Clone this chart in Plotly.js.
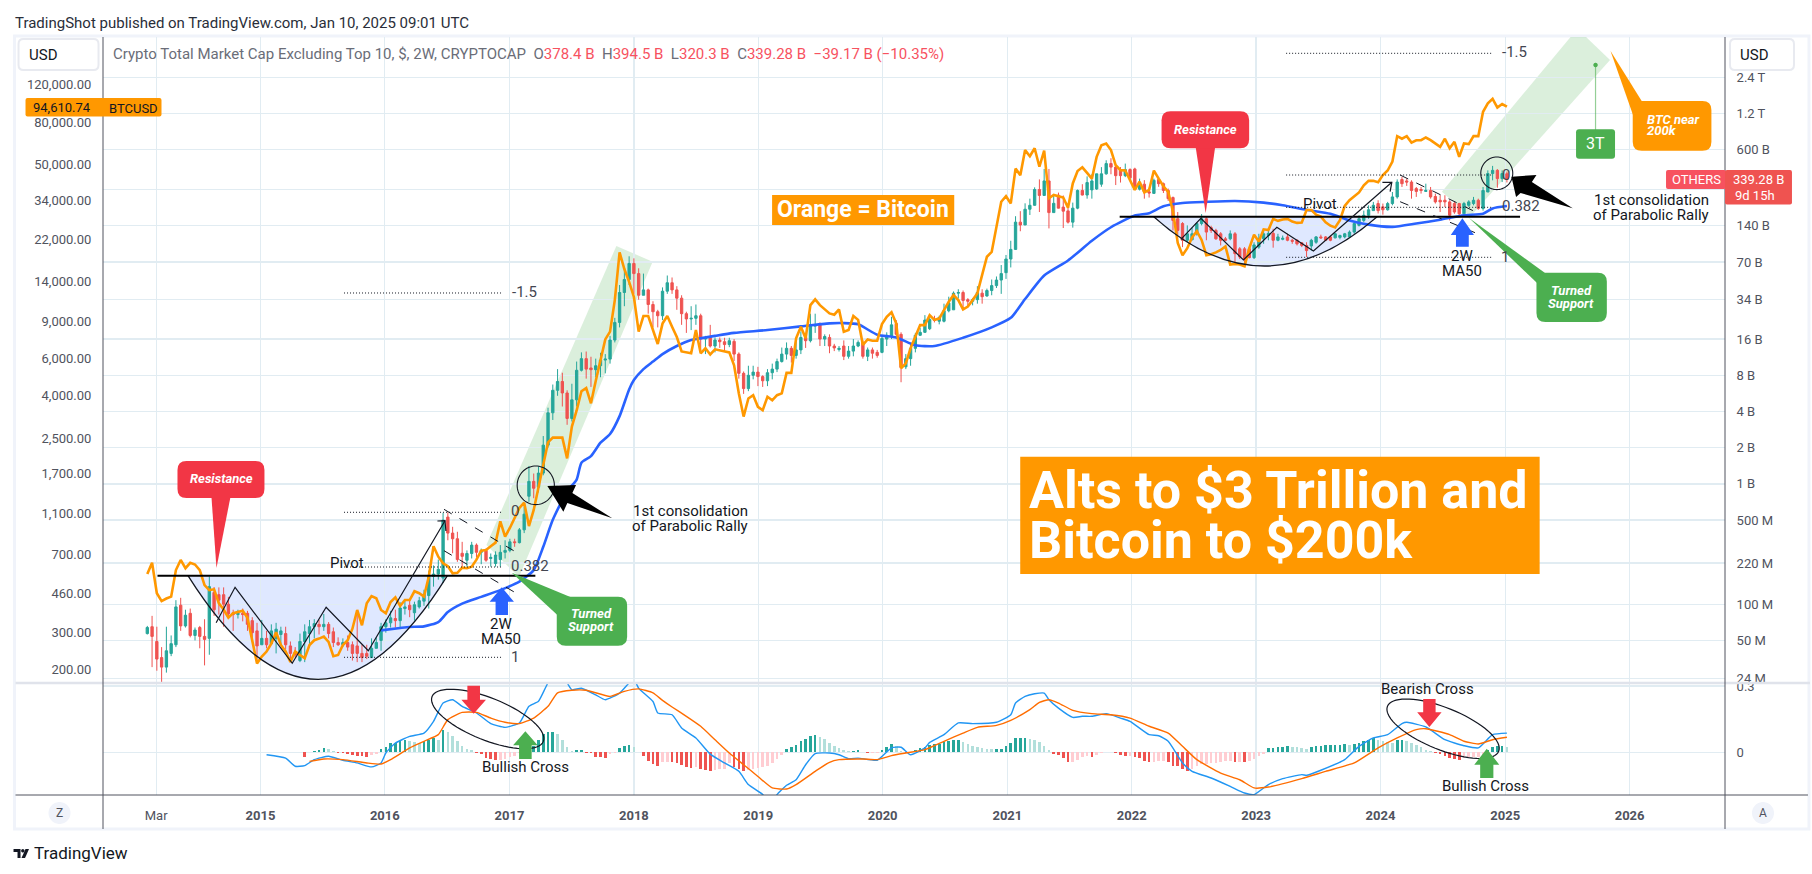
<!DOCTYPE html>
<html><head><meta charset="utf-8">
<script src="https://cdn.plot.ly/plotly-3.0.1.min.js"></script>
<style>html,body{margin:0;padding:0;background:#fff}#c{width:1812px;height:874px}</style></head>
<body><div id="c"></div>
<script>
// ---------- DATA (USD millions, 2-week bars, bar 1 = first bar) ----------
const othersOpen=[57,65,49,36,30,39,46,98,66,84,
55,64,54,52,125,120,120,100,85,82,
84,84,73,60,46,52,47,52,56,57,
45,40,34,49,57,65,68,65,68,59,
48,46,48,46,45,39,39,36,43,50,
65,70,76,73,92,98,85,95,106,118,
170,178,165,530,390,350,265,232,264,310,
270,280,240,218,235,270,280,330,325,415,
790,1050,940,1230,2100,3900,6000,7100,5700,3500,
5000,8800,11000,9200,8900,9600,10700,10900,15700,22000,
39000,50000,68000,56000,37000,41000,31000,27000,25000,40000,
47000,41000,35000,26000,23500,23800,25000,16000,16500,14000,
15700,15200,14400,15300,12000,8300,6200,8000,8500,7800,
7200,8400,9000,10400,12000,13400,11700,13000,16500,15500,
20500,21000,16000,16500,14000,13100,14000,11500,12700,14000,
15000,11500,13000,12400,12400,16000,17000,21500,17500,9400,
11000,13400,17200,18200,19500,23300,22500,22500,27500,28000,
38500,39000,34000,33000,34000,38500,36500,40500,44500,49500,
57000,74000,89000,150000,142000,192000,207000,280000,250000,330000,
180000,251000,200000,186000,150000,196000,275000,252000,278000,283000,
310000,378000,460000,430000,410000,365000,410000,415000,282000,310000,
268000,260000,339000,313000,275000,240000,160000,146000,106000,107000,
120000,146000,160000,135000,128000,120000,109000,109000,120000,90000,
90000,90000,76000,93000,109000,116000,121000,106000,108000,113000,
106000,106000,101000,96000,95000,102000,113000,113000,113000,111000,
112000,113000,113000,124000,141000,155000,171000,187000,214000,201000,
190000,214000,243000,339000,330000,323000,285000,280000,270000,275000,
245000,228000,228000,221000,214000,214000,176000,207000,214000,228000,
195000,267000,380000,404000,345000,378400];
const othersHigh=[66,80,65,44,65,55,108,113,90,92,
64,66,75,170,139,138,138,115,90,90,
92,88,78,70,74,60,68,70,65,65,
49,44,57,68,74,75,74,83,71,64,
53,52,55,49,83,46,46,52,53,70,
75,88,90,104,110,108,105,115,132,190,
210,235,575,580,440,400,330,280,330,320,
290,290,264,275,310,340,350,350,430,650,
1410,1220,1400,2500,4300,6700,9000,8400,6000,6800,
10400,12400,12600,11400,11000,12300,12000,17000,24000,45000,
60000,78000,75000,62000,56000,42000,33000,28000,43000,54000,
52000,44000,37000,27000,30000,31000,26000,17000,21000,16500,
16500,16400,16400,16000,12400,8600,9600,9600,9400,8000,
9000,10000,11000,13600,15000,14000,16000,18500,18000,26000,
26000,22000,17500,17500,14600,14000,15600,14000,16000,15600,
15600,13600,13600,13000,17000,18200,24500,23000,18200,12000,
14600,18000,19800,25300,24300,25000,25000,31500,36000,39800,
41500,40500,35000,35000,44000,41500,42000,50000,53000,66000,
80000,105000,168000,185000,215000,235000,292000,340000,415000,415000,
255000,264000,250000,205000,218000,280000,310000,360000,375000,378000,
430000,490000,510000,445000,430000,460000,420000,425000,345000,335000,
290000,345000,350000,320000,285000,245000,182000,150000,141000,135000,
150000,175000,165000,140000,132000,124000,113000,128000,124000,93000,
93000,93000,102000,120000,128000,132000,132000,120000,116000,120000,
109000,108000,102000,102000,109000,115000,118000,115000,116000,122000,
118000,122000,128000,150000,171000,187000,207000,221000,228000,214000,
221000,267000,340000,356000,345000,334000,294000,294000,313000,294000,
259000,251000,251000,228000,221000,217000,221000,228000,243000,235000,
294000,404000,440000,414000,404000,394500];
const othersLow=[56,30,28,22,27,37,44,60,64,53,
50,43,31,38,80,82,65,78,60,76,
72,60,52,34,46,43,46,39,45,42,
33,36,33,33,44,52,56,60,52,44,
45,44,41,34,33,33,35,36,43,41,
58,64,64,64,82,78,73,92,97,92,
140,160,150,340,265,225,205,205,240,245,
215,225,205,205,205,240,270,300,320,390,
710,760,850,1180,2000,3400,5400,4400,3100,3300,
4400,8600,7500,6400,7700,7700,8300,10000,15000,20000,
30000,45000,38000,34000,37000,26000,20000,20000,23000,38000,
38000,28000,21000,18000,19000,21000,13000,12000,13600,12400,
13500,12600,13700,10500,7500,5600,5900,7400,6500,6400,
6500,7400,8500,10200,10800,10200,11000,12000,13500,15000,
18000,14000,14000,12200,12700,12600,10700,11000,11500,13700,
11000,10500,11000,11200,12200,14000,16000,16500,7000,9000,
9600,12400,17000,18000,19000,22000,21200,22000,26700,28000,
34800,28500,30000,30500,31500,31500,36000,37000,42500,38000,
50600,63000,88000,126000,142000,172000,205000,182000,250000,133000,
180000,195000,134000,146000,135000,192000,250000,235000,235000,278000,
295000,372000,375000,305000,320000,355000,330000,280000,275000,235000,
240000,260000,295000,262000,225000,128000,116000,93000,102000,106000,
116000,141000,106000,122000,107000,96000,104000,106000,70000,74000,
66000,75000,74000,90000,99000,106000,92000,104000,106000,104000,
99000,96000,93000,77000,87000,99000,109000,106000,104000,110000,
108000,110000,112000,120000,138000,150000,160000,187000,177000,173000,
187000,207000,235000,294000,300000,235000,243000,259000,267000,235000,
214000,182000,200000,155000,176000,165000,176000,201000,207000,190000,
187000,267000,334000,290000,323000,320300];
const othersClose=[64,54,35,30,41,47,95,66,81,55,
61,54,51,140,90,108,100,83,82,84,
82,68,58,45,52,46,60,62,60,46,
39,38,49,59,65,69,65,68,57,48,
46,48,44,39,39,36,37,43,48,65,
70,77,73,93,95,90,99,107,121,170,
178,195,500,390,350,235,250,264,310,270,
280,232,245,256,270,280,330,325,415,560,
1050,920,1230,2100,3900,6000,7100,5700,3500,5000,
8800,11000,9000,8900,9600,10700,10900,15700,22000,39000,
50000,68000,56000,37000,41000,31000,27000,25000,40000,47000,
41000,35000,26000,23500,23800,25000,16000,16500,14000,15700,
15200,14400,15500,12000,8300,6200,8000,8500,7800,7200,
8400,9000,10400,12000,13400,11700,13000,16500,15500,21000,
21000,16000,16800,14000,13500,13400,11500,12700,14000,15000,
11500,13000,12200,11700,16200,17200,21000,17500,9300,11000,
13400,17200,18200,23000,23300,22800,24200,27500,32000,38500,
39000,33500,33000,34000,39000,36000,40500,44500,49500,56000,
74000,89000,150000,142000,192000,207000,280000,250000,330000,180000,
215000,196000,185000,150000,196000,275000,252000,320000,330000,378000,
378000,460000,430000,365000,365000,410000,350000,280000,310000,268000,
262000,334000,313000,275000,235000,155000,128000,106000,120000,120000,
146000,160000,124000,128000,109000,106000,106000,120000,82000,77000,
74000,76000,97000,109000,120000,121000,106000,113000,110000,106000,
104000,99000,96000,87000,106000,113000,111000,106000,106000,120000,
116000,120000,124000,146000,160000,171000,190000,207000,187000,190000,
214000,243000,323000,313000,323000,275000,270000,275000,275000,243000,
221000,221000,221000,171000,182000,176000,214000,221000,228000,195000,
275000,380000,404000,345000,380000,339280];
// Bitcoin in USD, same bars
const btcClose=[567,642,460,422,434,443,593,662,605,642,
630,593,503,476,480,412,385,352,370,375,
380,352,275,213,230,243,265,300,261,243,
217,243,234,226,261,275,280,286,270,231,
234,261,275,312,383,324,412,446,435,383,
369,418,440,400,427,427,470,460,443,551,
770,686,638,618,572,575,609,605,615,664,
733,738,770,800,1010,855,940,1045,1170,1240,
960,1145,1470,1909,2400,2525,2525,2525,2013,2850,
3400,4200,4345,3680,4700,6000,7400,8060,11380,19180,
16000,13900,11780,8060,9560,9560,8200,7040,8800,9560,
8500,7600,6490,6400,6360,8200,6360,6720,6280,6640,
6550,6500,6420,5580,4100,3180,3880,4020,3540,3410,
3950,3800,4020,4100,5130,5130,7500,8500,7490,10770,
11480,10770,10300,9840,9700,10280,8050,8200,9560,9170,
6970,7400,7300,7300,8760,9490,9960,8800,5400,5700,
6720,7600,8660,8660,9640,9170,9300,10200,11180,12020,
11380,10280,10600,11380,12260,15000,18300,19300,25400,33400,
35500,32800,48000,44700,58800,55000,60000,49000,58400,34700,
36000,35600,35000,31300,40800,46800,48700,45800,43000,54600,
62000,63200,58800,49800,47200,47000,42400,38000,41600,37000,
38000,47000,43000,39600,37200,30000,21300,18600,20100,22600,
24200,22000,18600,18800,19200,19700,20500,16800,16900,16800,
16500,20100,23300,21600,24700,24500,27700,27100,27500,27700,
26900,26500,26600,30500,30500,29000,28400,26700,25700,25200,
27300,31900,34000,35600,37000,40000,42000,42000,41400,44700,
47000,51900,68500,66600,68500,63800,65500,65500,67500,65600,
63000,60900,66600,60000,64400,54600,63200,62800,68500,68500,
89400,98000,103000,93600,97400,94610.74];
// 2W MA50 of OTHERS (USD millions) read at these bars
const maBars=[50,54,56,59,62,64,67,71,75,79,82,84,86,89,91,92,94,96,98,100,102,103,105,107,109,112,115,120,124,131,138,144,147,150,154,158,162,166,172,178,182,185,189,194,199,203,208,211,214,218,223,229,235,239,244,249,253,257,262,267,272,277,281,283,286];
const maValues=[60.6,63.4,64.7,65.4,71,86,101,115,131,154,192,300,503,868,1087,1500,1700,2200,2600,3660,6100,7300,9000,10400,12000,14000,15700,17000,18000,19000,20400,21600,21700,21200,17400,16500,14200,14000,16400,20000,24000,34400,54000,72000,105000,136000,170000,178000,203000,216000,221000,225000,218000,207000,190000,176000,155000,143000,137000,146000,157000,171000,176000,195000,204000];
// MACD pane
const macdBars=[26,30,32,34,36,39,42,45,48,50,51,53,56,59,61,63,65,67,70,73,76,79,81,83,85,87,89,90,92,95,97,100,102,103,104,107,108,111,113,116,119,122,125,127,130,131,132,133,135,137,139,141,144,146,148,150,154,157,159,161,164,165,168,171,174,179,182,183,185,187,189,190,192,195,197,199,202,205,207,211,213,215,218,220,224,228,231,233,236,239,243,244,247,252,255,258,261,264,265,269,273,277,280,283,286];
const macdValues=[-.011,-.026,-.063,-.060,-.033,-.018,-.036,-.048,-.066,-.048,-.003,.042,.072,.087,.140,.223,.238,.208,.178,.130,.113,.133,.208,.231,.314,.36,.314,.283,.29,.26,.238,.268,.314,.33,.29,.23,.178,.170,.110,.065,-.008,-.048,-.086,-.146,-.191,-.222,-.24,-.191,-.149,-.124,-.056,-.006,-.003,-.011,-.029,-.026,-.036,.020,.023,-.011,.020,.045,.080,.133,.130,.136,.170,.223,.253,.265,.268,.238,.20,.158,.163,.163,.175,.155,.140,.080,.075,.050,-.048,-.086,-.116,-.154,-.184,-.191,-.146,-.119,-.101,-.104,-.081,-.033,.027,.065,.080,.130,.136,.115,.057,.030,.020,.080,.087];
const signalBars=[35,38,42,47,50,52,56,59,62,64,67,70,73,76,79,82,85,87,90,93,98,101,104,107,109,111,114,117,120,123,126,129,132,135,137,141,144,146,151,154,157,160,164,168,172,175,179,182,186,188,190,192,195,199,203,207,211,215,218,221,226,230,233,236,243,248,254,259,263,267,269,274,277,280,283,286];
const signalValues=[-.041,-.030,-.033,-.048,-.053,-.033,.020,.050,.080,.148,.181,.181,.155,.136,.130,.155,.208,.269,.281,.281,.253,.276,.287,.269,.235,.205,.163,.118,.057,-.003,-.056,-.109,-.161,-.166,-.146,-.086,-.045,-.033,-.030,-.033,-.015,-.003,.012,.050,.087,.113,.122,.145,.193,.226,.238,.223,.190,.175,.170,.155,.118,.087,.027,-.033,-.094,-.124,-.161,-.157,-.119,-.086,-.048,.020,.065,.103,.107,.080,.050,.038,.057,.068];
// Histogram in thousandths, bars 34..286
const histMilli=[-23,0,8,12,20,14,6,-2,-5,-6,
-12,-15,-17,-20,-11,-8,15,26,42,42,
50,57,53,47,42,53,57,63,57,102,
90,75,50,30,15,9,-3,-8,-24,-30,
-35,-33,-30,-21,-15,-5,6,15,30,57,
83,90,93,83,57,23,8,11,11,-2,
-5,-21,-23,-26,-8,-2,20,27,33,24,
3,-18,-38,
-53,-60,-45,-42,-45,-48,-57,-65,-71,-68,
-75,-78,-83,-78,-75,-75,-48,-68,-75,-83,
-78,-75,-72,-68,-60,-48,-30,-12,15,23,
33,50,60,72,78,69,60,42,30,20,
12,8,8,11,2,-2,-2,-2,11,26,
38,30,8,-2,-2,9,18,26,33,38,
38,45,50,56,56,48,38,30,26,21,
17,15,15,15,30,41,63,65,65,60,
56,45,30,12,
-8,-11,-27,-42,-42,-33,-23,-15,-20,-11,
-5,2,2,-5,-12,-15,-15,-23,-27,-38,
-45,-42,-38,-38,-45,-60,-63,-75,-83,-75,
-60,-53,-53,-50,-50,-42,-41,-38,-45,-42,
-45,-41,-30,-18,-8,18,18,23,26,29,
26,23,20,15,23,27,30,33,33,35,
35,36,35,38,42,50,54,63,54,50,
45,42,57,57,53,42,33,23,12,5,
-3,-9,-18,-27,-30,-35,-24,-23,-20,-20,
-12,12,26,30,30,24];
const rightTickVals=[2.4e6,1.2e6,6e5,2.8e5,1.4e5,7e4,3.4e4,1.6e4,8e3,4e3,2e3,1e3,500,220,100,50,24];
const rightTickText=['2.4 T','1.2 T','600 B','','140 B','70 B','34 B','16 B','8 B','4 B','2 B','1 B','500 M','220 M','100 M','50 M','24 M'];
const leftTickVals=[120000,80000,50000,34000,22000,14000,9000,6000,4000,2500,1700,1100,700,460,300,200];
const leftTickText=leftTickVals.map(v=>v.toLocaleString('en-US',{minimumFractionDigits:2}));
const yearTicks=['2014-03-01','2015-01-01','2016-01-01','2017-01-01','2018-01-01','2019-01-01','2020-01-01','2021-01-01','2022-01-01','2023-01-01','2024-01-01','2025-01-01','2026-01-01'];
const yearText=['Mar','<b>2015</b>','<b>2016</b>','<b>2017</b>','<b>2018</b>','<b>2019</b>','<b>2020</b>','<b>2021</b>','<b>2022</b>','<b>2023</b>','<b>2024</b>','<b>2025</b>','<b>2026</b>'];
const firstHistBar=34;

// ---------- time scale ----------
const DAY=864e5, T0=Date.UTC(2014,1,3);
const dateOf=b=>new Date(T0+(b-1)*14*DAY).toISOString().slice(0,10);
const barDates=othersClose.map((_,i)=>dateOf(i+1));

// ---------- layout helpers (page pixels -> paper) ----------
const PL=102.5,PR=1725,PT=37,PB=795,SEP=683,W=1812,H=874;
const fx=x=>((x-PL)/(PR-PL)).toFixed(5), fy=y=>(1-(y-PT)/(PB-PT)).toFixed(5);
const P=(pts,close)=>'M'+pts.map(p=>fx(p[0])+','+fy(p[1])).join(' L')+(close?' Z':'');
const base={xref:'paper',yref:'paper'};
const shapes=[],notes=[];
const poly=(pts,fill,layer)=>shapes.push({...base,type:'path',path:P(pts,true),fillcolor:fill,line:{width:0},layer:layer||'above'});
const strokePath=(path,color,w,dash,layer)=>shapes.push({...base,type:'path',path,line:{color,width:w,dash:dash||'solid'},layer:layer||'above'});
const seg=(x0,y0,x1,y1,color,w,dash,layer)=>shapes.push({...base,type:'line',x0:fx(x0),y0:fy(y0),x1:fx(x1),y1:fy(y1),line:{color,width:w,dash:dash||'solid'},layer:layer||'above'});
const rr=(x0,y0,x1,y1,r)=>`M${fx(x0+r)},${fy(y0)} L${fx(x1-r)},${fy(y0)} Q${fx(x1)},${fy(y0)} ${fx(x1)},${fy(y0+r)} L${fx(x1)},${fy(y1-r)} Q${fx(x1)},${fy(y1)} ${fx(x1-r)},${fy(y1)} L${fx(x0+r)},${fy(y1)} Q${fx(x0)},${fy(y1)} ${fx(x0)},${fy(y1-r)} L${fx(x0)},${fy(y0+r)} Q${fx(x0)},${fy(y0)} ${fx(x0+r)},${fy(y0)} Z`;
const box=(x0,y0,x1,y1,r,fill,line,lw)=>shapes.push({...base,type:'path',path:rr(x0,y0,x1,y1,r),fillcolor:fill,line:{color:line||fill,width:lw===undefined?0:lw},layer:'above'});
const ell=(cx,cy,a,b,deg)=>{const t=deg*Math.PI/180,pts=[];for(let k=0;k<72;k++){const u=k/72*2*Math.PI,ex=a*Math.cos(u),ey=b*Math.sin(u);pts.push([cx+ex*Math.cos(t)-ey*Math.sin(t),cy+ex*Math.sin(t)+ey*Math.cos(t)]);}return P(pts,true);};
const F='Roboto, sans-serif';
const T=(text,x,y,o={})=>notes.push({...base,text,x:fx(x),y:fy(y),showarrow:false,xanchor:o.a||'center',yanchor:'middle',align:o.a||'center',font:{family:o.f||F,size:o.s||14,color:o.c||'#131722'}});

// ---------- chrome ----------
strokePath(`M${fx(14)},${fy(36)} L${fx(1809)},${fy(36)} L${fx(1809)},${fy(829)} L${fx(14)},${fy(829)} Z`,'#f0f3fa',3,'solid','below');
seg(15,SEP,1810,SEP,'#e0e3eb',2.5);
seg(PL,PT,PL,829,'#50535e',1);seg(PR,PT,PR,829,'#50535e',1);seg(15,PB,1808,PB,'#50535e',1);
T('TradingShot published on TradingView.com, Jan 10, 2025 09:01 UTC',12,23,{a:'left',s:15,c:'#2a2e39'});
const RED='#f7525f';
T(`Crypto Total Market Cap Excluding Top 10, $, 2W, CRYPTOCAP  O<span style="color:${RED}">378.4 B</span>  H<span style="color:${RED}">394.5 B</span>  L<span style="color:${RED}">320.3 B</span>  C<span style="color:${RED}">339.28 B</span>  <span style="color:${RED}">−39.17 B (−10.35%)</span>`,111,54,{a:'left',s:15,c:'#6a6d78'});
box(18,39,98,70,5,'#ffffff','#e8eaf0',2);T('USD',42,54.5,{s:15});
box(1730,39,1794,70,5,'#ffffff','#e8eaf0',2);T('USD',1754,54.5,{s:15});
// price tags
box(25,98,161,116.5,2,'#ff9800');T('94,610.74',61,107,{s:13});T('BTCUSD',133,108,{s:13});
box(1666,170,1726,189,2,'#f7525f');T('OTHERS',1696,180,{s:13,c:'#fff'});
box(1725,170,1792,204.5,2,'#ef5350');T('339.28 B',1759,180,{s:13,c:'#fff'});T('9d 15h',1755,196,{s:13,c:'#fff'});
// bottom buttons
shapes.push({...base,type:'path',path:ell(59,813,11,11,0),fillcolor:'#f0f3fa',line:{width:0},layer:'above'});T('Z',59,813,{s:12,c:'#50535e'});
shapes.push({...base,type:'path',path:ell(1763,813,11,11,0),fillcolor:'#f0f3fa',line:{width:0},layer:'above'});T('A',1763,813,{s:12,c:'#50535e'});
// footer logo
poly([[13,849],[20,849],[20,858],[17,858],[17,852],[13,852]],'#131722');
shapes.push({...base,type:'path',path:ell(22.3,850.8,1.7,1.7,0),fillcolor:'#131722',line:{width:0},layer:'above'});
poly([[25,849],[28.5,849],[24.5,858],[21,858]],'#131722');
T('TradingView',31,853,{a:'left',s:17,c:'#131722'});

// ---------- left cup & handle drawings ----------
poly([[486,545],[616,246],[652.3,261.7],[518.6,577]],'rgba(76,175,80,0.2)','below');
poly([[1441.8,191.7],[1570.5,37],[1586,37],[1610,60],[1470,216.7]],'rgba(76,175,80,0.2)','below');
const cup=(x0,y0,xc,yc,x1)=>`M${fx(x0)},${fy(y0)} Q${fx(xc)},${fy(yc)} ${fx(x1)},${fy(y0)}`;
shapes.push({...base,type:'path',path:cup(187.5,575.7,318,783,447)+' Z',fillcolor:'rgba(41,98,255,0.15)',line:{width:0},layer:'below'});
strokePath(cup(187.5,575.7,318,783,447),'#131722',1.3);
seg(157,575.7,535,575.7,'#000',2);
shapes.push({...base,type:'path',path:cup(1153.6,216.7,1263.6,315.3,1377)+' Z',fillcolor:'rgba(41,98,255,0.15)',line:{width:0},layer:'below'});
strokePath(cup(1153.6,216.7,1263.6,315.3,1377),'#131722',1.3);
seg(1119.5,216.7,1520,216.7,'#000',2);
strokePath(P([[215.7,622.7],[234.6,587.3],[291.8,663.3],[325.7,607.3],[367.9,650.7],[444.6,520.7]]),'#131722',1.2);
strokePath(P([[437,521],[444.6,520.7],[445.5,531]]),'#131722',1.2);
strokePath(P([[1180.7,239.3],[1200.7,218.3],[1243.3,260],[1276.7,227.3],[1313.3,251],[1391.7,182.3]]),'#131722',1.2);
strokePath(P([[1382.3,182.3],[1391.7,182.3],[1390,191.7]]),'#131722',1.2);
// fib levels
const dots=(x0,x1,y)=>seg(x0,y,x1,y,'#131722',1,'1px,2px');
dots(343.6,502.5,293);dots(343.6,502.5,512.3);dots(343.6,502.5,567);dots(343.6,502.5,657.3);
dots(1286,1492,53.3);dots(1286,1492,175);dots(1286,1492,207.3);dots(1286,1492,257.3);
const fib={s:15,c:'#434651'};
T('-1.5',524,292,fib);T('0',515,511,fib);T('0.382',530,566,fib);T('1',515,657,fib);
T('-1.5',1514.5,52,fib);T('0',1505.7,175,fib);T('0.382',1521,206,fib);T('1',1505,257.3,fib);
T('Pivot',347,563,{s:15});T('Pivot',1320,204,{s:15});
// dashed flags
seg(443.6,509.3,515,551.7,'#131722',1,'dash');seg(443.6,550.7,515,592.7,'#131722',1,'dash');
seg(1400,175,1475,211.7,'#131722',1,'dash');seg(1400,201.7,1475,232.7,'#131722',1,'dash');
// circles & ellipses
strokePath(ell(535.4,485.3,18.6,19.3,0),'#131722',1.1);
strokePath(ell(1496.7,173.3,16,16.3,0),'#131722',1.1);
strokePath(ell(487.3,719,60,21,22),'#131722',1.2);
strokePath(ell(1443,728.8,60,21,22),'#131722',1.2);
// callouts
const RD='#f23645',GR='#4caf50',OR='#ff9800',BL='#2962ff';
const call=(t,x0,y0,x1,y1,tail,col,lines,cx,ys,a)=>{poly(tail,col);box(x0,y0,x1,y1,9,col);lines.forEach((l,k)=>T(`<b><i>${l}</i></b>`,cx,ys[k],{s:13,c:'#fff',a:a}));};
call('',177,461,264,498,[[211,497],[230,497],[216,568]],RD,['Resistance'],221,[479]);
call('',1161.4,111.3,1249,148.3,[[1195.5,147],[1215,147],[1205.5,213.3]],RD,['Resistance'],1205.5,[129.5]);
call('',556.4,596.7,626.8,645.7,[[511.4,572.7],[570,597],[557,615]],GR,['Turned','Support'],591,[613.5,627]);
call('',1536.4,272.7,1606.8,322,[[1469,218],[1545,273],[1537,283]],GR,['Turned','Support'],1571,[291,303.5]);
call('',1632.7,101,1711.4,150.7,[[1610.5,51],[1642.3,102],[1633,115]],OR,['BTC near','200k'],1645,[119,131],'left');
// 3T target
seg(1595.5,65,1595.5,130,'rgba(76,175,80,0.6)',1.2);
shapes.push({...base,type:'path',path:ell(1595.5,65,2.2,2.2,0),fillcolor:GR,line:{width:0},layer:'above'});
box(1576,129.3,1615,158.7,3,GR);T('3T',1595.5,144,{s:16,c:'#fff'});
// MA50 arrows
const upArrow=(xt,yt,hw,sw,hb,bot,col)=>poly([[xt,yt],[xt+hw,hb],[xt+sw,hb],[xt+sw,bot],[xt-sw,bot],[xt-sw,hb],[xt-hw,hb]],col);
const dnArrow=(xt,yt,hw,sw,hb,top,col)=>poly([[xt,yt],[xt+hw,hb],[xt+sw,hb],[xt+sw,top],[xt-sw,top],[xt-sw,hb],[xt-hw,hb]],col);
upArrow(501.4,587.3,12.2,6.2,601.7,615,BL);T('2W',500.7,623.5,{s:15});T('MA50',500.7,638.5,{s:15});
upArrow(1462.3,218.3,11.6,6.4,235,246.7,BL);T('2W',1462.3,256,{s:15});T('MA50',1462.3,270.7,{s:15});
// big black arrows
poly([[547,486],[575.7,485],[572,493],[612,518.3],[567,503],[563,511.7]],'#000');
poly([[1511.4,176.7],[1536.4,175],[1531.8,182],[1572.7,208.3],[1520.5,193],[1516,197]],'#000');
T('1st consolidation',690,511,{s:15});T('of Parabolic Rally',690,525.5,{s:15});
T('1st consolidation',1651,200,{s:15});T('of Parabolic Rally',1651,215,{s:15});
// MACD arrows
dnArrow(473.3,713.7,12.3,6.3,699.7,685.7,RD);dnArrow(1429.3,727,12.2,6.2,712.3,699,RD);
upArrow(525,731.3,12.3,6.3,745.3,759,GR);upArrow(1486.7,748.7,12.5,6.6,764.7,778,GR);
T('Bullish Cross',525,767.3,{s:15});T('Bearish Cross',1427.7,689,{s:15});T('Bullish Cross',1485,786.3,{s:15});
// text banners
poly([[771.8,195],[954,195],[954,225],[771.8,225]],OR);
T('<b>Orange = Bitcoin</b>',862.9,210,{s:23,c:'#fff'});
poly([[1020,456.7],[1539.6,456.7],[1539.6,574],[1020,574]],OR);
T('<b>Alts to $3 Trillion and</b>',1027,490,{a:'left',s:52,c:'#fff'});
T('<b>Bitcoin to $200k</b>',1027,540,{a:'left',s:52,c:'#fff'});

// ---------- traces ----------
const grid='#e1ecf2',tickc='#50535e';
const histColors=histMilli.map((v,i)=>{const p=i?histMilli[i-1]:0;return v>=0?(v>=p?'#26a69a':'#b2dfdb'):(v<p?'#ef5350':'#ffcdd2');});
const traces=[
 {type:'candlestick',x:barDates,open:othersOpen.map(v=>v*1e6),high:othersHigh.map(v=>v*1e6),low:othersLow.map(v=>v*1e6),close:othersClose.map(v=>v*1e6),xaxis:'x',yaxis:'y',
  increasing:{line:{color:'#26a69a',width:1},fillcolor:'#26a69a'},decreasing:{line:{color:'#ef5350',width:1},fillcolor:'#ef5350'},whiskerwidth:0,hoverinfo:'skip'},
 {type:'scatter',mode:'lines',x:maBars.map(dateOf),y:maValues.map(v=>v*1e6),xaxis:'x',yaxis:'y',line:{color:BL,width:2.6,shape:'spline',smoothing:0.6},hoverinfo:'skip'},
 {type:'scatter',mode:'lines',x:barDates,y:btcClose,xaxis:'x',yaxis:'y2',line:{color:OR,width:2.6},hoverinfo:'skip'},
 {type:'bar',x:histMilli.map((_,i)=>dateOf(firstHistBar+i)),y:histMilli.map(v=>v/1000),xaxis:'x',yaxis:'y3',marker:{color:histColors,line:{width:0}},width:14*DAY*0.55,hoverinfo:'skip'},
 {type:'scatter',mode:'lines',x:macdBars.map(dateOf),y:macdValues,xaxis:'x',yaxis:'y3',line:{color:'#2196f3',width:1.4,shape:'spline',smoothing:0.5},hoverinfo:'skip'},
 {type:'scatter',mode:'lines',x:signalBars.map(dateOf),y:signalValues,xaxis:'x',yaxis:'y3',line:{color:'#ff6d00',width:1.4,shape:'spline',smoothing:0.5},hoverinfo:'skip'}
];
const SPLIT=(PB-SEP)/(PB-PT);
const layout={width:W,height:H,margin:{l:PL,r:W-PR,t:PT,b:H-PB,pad:0},paper_bgcolor:'#fff',plot_bgcolor:'#fff',showlegend:false,hovermode:false,bargap:0,
 font:{family:F,size:13,color:tickc},shapes,annotations:notes,
 xaxis:{type:'date',range:['2013-09-26','2026-10-08'],anchor:'y3',tickmode:'array',tickvals:yearTicks,ticktext:yearText,showgrid:true,gridcolor:grid,gridwidth:1.3,showline:false,zeroline:false,ticks:'outside',ticklen:8,tickcolor:'rgba(0,0,0,0)',tickfont:{family:F,size:13,color:tickc},rangeslider:{visible:false},fixedrange:true},
 yaxis:{type:'log',domain:[SPLIT,1],range:[7.345,12.715],side:'right',anchor:'x',tickmode:'array',tickvals:rightTickVals.map(v=>v*1e6),ticktext:rightTickText,showgrid:true,gridcolor:grid,gridwidth:1.3,zeroline:false,showline:false,ticks:'outside',ticklen:8,tickcolor:'rgba(0,0,0,0)',tickfont:{family:F,size:13,color:tickc},fixedrange:true},
 yaxis2:{type:'log',overlaying:'y',domain:[SPLIT,1],range:[2.236,5.307],side:'left',anchor:'x',tickmode:'array',tickvals:leftTickVals,ticktext:leftTickText,showgrid:false,zeroline:false,showline:false,ticks:'outside',ticklen:8,tickcolor:'rgba(0,0,0,0)',tickfont:{family:F,size:13,color:tickc},fixedrange:true},
 yaxis3:{domain:[0,SPLIT],range:[-0.193,0.3136],side:'right',anchor:'x',tickmode:'array',tickvals:[0,0.3],ticktext:['0','0.3'],showgrid:true,gridcolor:grid,gridwidth:1.3,zeroline:false,showline:false,ticks:'outside',ticklen:8,tickcolor:'rgba(0,0,0,0)',tickfont:{family:F,size:13,color:tickc},fixedrange:true}
};
Plotly.newPlot('c',traces,layout,{staticPlot:true,displayModeBar:false});
</script></body></html>
